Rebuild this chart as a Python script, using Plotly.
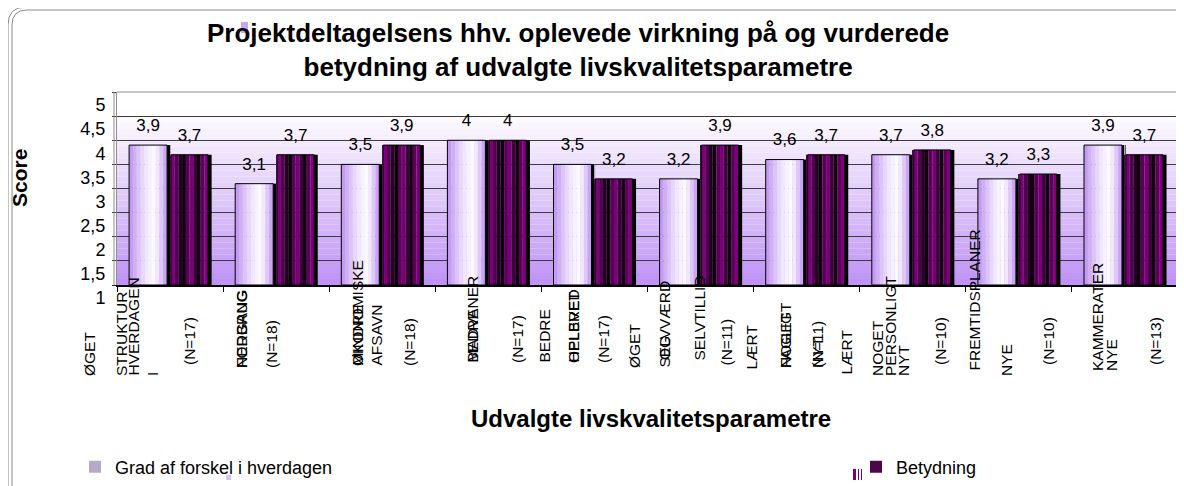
import plotly.graph_objects as go

# ---------------- data ----------------
categories = [
    "ØGET STRUKTUR I HVERDAGEN (N=17)",
    "NEDGANG FORBRUG (N=18)",
    "MINDRE ØKONOMISKE AFSAVN (N=18)",
    "BEDRE MADVANER (N=17)",
    "BEDRE OPLEVET HELBRED (N=17)",
    "ØGET SELVVÆRD OG SELVTILLID (N=11)",
    "LÆRT NOGET FAGLIGT NYT (N=11)",
    "LÆRT NOGET PERSONLIGT NYT (N=10)",
    "NYE FREMTIDSPLANER (N=10)",
    "NYE KAMMERATER (N=13)",
]
grad_values = [3.9, 3.1, 3.5, 4.0, 3.5, 3.2, 3.6, 3.7, 3.2, 3.9]
betydning_values = [3.7, 3.7, 3.9, 4.0, 3.2, 3.9, 3.7, 3.8, 3.3, 3.7]
series_names = ["Grad af forskel i hverdagen", "Betydning"]

y_ticks = [1, 1.5, 2, 2.5, 3, 3.5, 4, 4.5, 5]

# category label fragments as they appear (rotated) under the axis
label_texts = [
    "ØGET", "STRUKTUR", "HVERDAGEN", "I", "(N=17)",
    "FORBRUG", "NEDGANG", "(N=18)",
    "MINDRE", "ØKONOMISKE", "AFSAVN", "(N=18)",
    "BEDRE", "MADVANER", "(N=17)",
    "BEDRE", "OPLEVET", "HELBRED", "(N=17)",
    "ØGET", "SELVVÆRD", "OG", "SELVTILLID", "(N=11)",
    "LÆRT", "NOGET", "FAGLIGT", "NYT", "(N=11)",
    "LÆRT", "NOGET", "PERSONLIGT", "NYT", "(N=10)",
    "FREMTIDSPLANER", "NYE", "(N=10)",
    "KAMMERATER", "NYE", "(N=13)",
]

# ---------------- layout geometry (window pixels) ----------------
WIN_W, WIN_H = 1184, 486
OX = OY = 8                                   # page body margin
W, H = WIN_W - OX, WIN_H - OY                 # figure size
PL, PR, PT, PB = 117, 1178, 92, 285           # plot area edges (window px)
PW, PH = PR - PL, PB - PT


def paper_x(px):
    return (px - PL) / PW


def paper_y(py):
    return (PB - py) / PH


def cont_x(px):
    return (px - OX) / W


def cont_y(py):
    return 1 - (py - OY) / H


# label fragment placements: (centre x px, bottom y px)
label_pos = [
    (89, 378), (121, 378), (132.5, 378), (152, 378), (189, 367),
    (241, 370), (241, 370), (271, 370),
    (357, 368), (357, 368), (376, 368), (409, 368),
    (472, 365), (472, 365), (517, 365),
    (544, 365), (573, 365), (573, 365), (603, 365),
    (634, 370), (664, 370), (664, 362), (699, 363), (726, 368),
    (751, 372), (785, 370), (785, 370), (817, 370), (817, 370),
    (846, 377), (877, 378), (890, 378), (903, 378), (940, 367),
    (974, 373), (1006, 378), (1048, 367),
    (1097, 373), (1111, 373), (1155, 367),
]

FONT = "Liberation Sans, Arial, sans-serif"

light_cols = ["#c39bf2", "#d0b0f5", "#ddc4f8", "#e8d7fb", "#f1e7fd",
              "#f7f1fe", "#fbf9ff", "#f1e8fd", "#dec8f9", "#c9a5f4"]
dark_cols = ["#7b0079", "#520050", "#240022", "#0c000b", "#5a0058",
             "#7a0078", "#3c003a", "#120011", "#5c005a", "#7e007c"]

LIGHT_OFF, LIGHT_W = -0.386, 0.358
DARK_OFF, DARK_W = 0.009, 0.349
SH_W = 0.036

xs = list(range(len(categories)))
fig = go.Figure()

# shadows (3D side faces)
for off, vals in ((LIGHT_OFF + LIGHT_W, grad_values), (DARK_OFF + DARK_W, betydning_values)):
    fig.add_trace(go.Bar(x=xs, y=[v - 1 for v in vals], base=1, offset=off - 0.002, width=SH_W,
                         marker=dict(color="#000000", line=dict(width=0)),
                         showlegend=False, hoverinfo="skip"))

# gradient strips + outlines
for cols, off, wid, vals in ((light_cols, LIGHT_OFF, LIGHT_W, grad_values),
                             (dark_cols, DARK_OFF, DARK_W, betydning_values)):
    n = len(cols)
    sw = wid / n
    for k, c in enumerate(cols):
        fig.add_trace(go.Bar(x=xs, y=[v - 1 for v in vals], base=1,
                             offset=off + k * sw, width=sw * 1.03,
                             marker=dict(color=c, line=dict(width=0)),
                             showlegend=False, hoverinfo="skip"))
    fig.add_trace(go.Bar(x=xs, y=[v - 1 for v in vals], base=1, offset=off, width=wid,
                         marker=dict(color="rgba(0,0,0,0)", line=dict(color="#000000", width=1)),
                         showlegend=False, hoverinfo="skip"))

# legend carriers (zero-width bars of each series)
for name, vals, col, leg in ((series_names[0], grad_values, "#b4aac8", "legend"),
                             (series_names[1], betydning_values, "#4c0649", "legend2")):
    fig.add_trace(go.Bar(x=xs, y=[v - 1 for v in vals], base=1, width=0,
                         marker=dict(color=col, line=dict(width=0)),
                         name=name, showlegend=True, legend=leg, hoverinfo="skip"))

# value labels
for off, wid, vals in ((LIGHT_OFF, LIGHT_W, grad_values), (DARK_OFF, DARK_W, betydning_values)):
    fig.add_trace(go.Scatter(
        x=[i + off + wid / 2 for i in xs], y=[v + 0.38 for v in vals],
        mode="text", text=[("%g" % v).replace(".", ",") for v in vals],
        textposition="middle center", textfont=dict(family=FONT, size=17, color="#000"),
        cliponaxis=False, showlegend=False, hoverinfo="skip"))

# background gradient bands
nb = 32
top_c = (255, 255, 255)
bot_c = (190, 145, 245)
for b in range(nb):
    y0 = 1 + 4.0 * b / nb
    y1 = 1 + 4.0 * (b + 1) / nb
    t = min(1.0, (b + 0.5) / (nb * 0.9))
    c = tuple(int(round(bot_c[j] + (top_c[j] - bot_c[j]) * t)) for j in range(3))
    fig.add_shape(type="rect", xref="x", yref="y", x0=-0.5, x1=9.5, y0=y0, y1=y1,
                  fillcolor="rgb(%d,%d,%d)" % c, line=dict(width=0), layer="below")

shapes = []
# plot top/right border
shapes.append(dict(type="path", xref="paper", yref="paper",
                   path="M 0,1 L 1,1 L 1,0", line=dict(color="#8c8c8c", width=1.2)))
# double left wall line
shapes.append(dict(type="line", xref="paper", yref="paper",
                   x0=paper_x(114), x1=paper_x(114), y0=paper_y(PB), y1=paper_y(PT),
                   line=dict(color="#8c8c8c", width=1)))


# outer rounded double frame
def frame(xl, yt, yb, r):
    return ("M %f,%f L %f,%f Q %f,%f %f,%f L %f,%f" % (
        paper_x(xl), paper_y(yb), paper_x(xl), paper_y(yt + r),
        paper_x(xl), paper_y(yt), paper_x(xl + r), paper_y(yt),
        paper_x(WIN_W + 10), paper_y(yt)))


for xl, yt, r in ((8, 7, 18), (12, 10, 15)):
    shapes.append(dict(type="path", xref="paper", yref="paper", path=frame(xl, yt, WIN_H + 10, r),
                       line=dict(color="#8a8a8a", width=1)))

# small stray marks of the original
shapes.append(dict(type="rect", xref="paper", yref="paper", x0=paper_x(241), x1=paper_x(248),
                   y0=paper_y(33), y1=paper_y(22), fillcolor="#c8a2f6", line=dict(width=0)))
shapes.append(dict(type="rect", xref="paper", yref="paper", x0=paper_x(226), x1=paper_x(231),
                   y0=paper_y(480), y1=paper_y(475), fillcolor="#d8c2f8", line=dict(width=0)))
shapes.append(dict(type="rect", xref="paper", yref="paper", x0=paper_x(853), x1=paper_x(856),
                   y0=paper_y(480), y1=paper_y(469), fillcolor="#7a0078", line=dict(width=0)))
for xx in (858.5, 861.5):
    shapes.append(dict(type="line", xref="paper", yref="paper", x0=paper_x(xx), x1=paper_x(xx),
                       y0=paper_y(480), y1=paper_y(469), line=dict(color="#7a0078", width=1)))
for s in shapes:
    fig.add_shape(**s)

annotations = []
for txt, (cx, by) in zip(label_texts, label_pos):
    annotations.append(dict(x=paper_x(cx), xref="paper", y=paper_y(by), yref="paper",
                            text=txt, textangle=-90, showarrow=False,
                            xanchor="center", yanchor="bottom",
                            font=dict(family=FONT, size=15.5, color="#000")))
annotations.append(dict(x=paper_x(19), y=paper_y(178), xref="paper", yref="paper",
                        text="Score", textangle=-90, showarrow=False,
                        xanchor="center", yanchor="middle",
                        font=dict(family=FONT, size=21, color="#000", weight="bold")))
annotations.append(dict(x=paper_x(651), y=paper_y(418), xref="paper", yref="paper",
                        text="Udvalgte livskvalitetsparametre", showarrow=False,
                        xanchor="center", yanchor="middle",
                        font=dict(family=FONT, size=24, color="#000", weight="bold")))
annotations.append(dict(x=paper_x(578), y=paper_y(50), xref="paper", yref="paper",
                        text="Projektdeltagelsens hhv. oplevede virkning på og vurderede<br>"
                             "betydning af udvalgte livskvalitetsparametre",
                        showarrow=False, xanchor="center", yanchor="middle", align="center",
                        font=dict(family=FONT, size=26, color="#000", weight="bold")))

legend_common = dict(orientation="h", xref="container", yref="container",
                     xanchor="left", yanchor="middle",
                     font=dict(family=FONT, size=18, color="#000"),
                     bgcolor="rgba(0,0,0,0)", borderwidth=0)

fig.update_layout(
    width=W, height=H,
    margin=dict(l=PL - OX, r=WIN_W - PR, t=PT - OY, b=WIN_H - PB, autoexpand=False),
    paper_bgcolor="#ffffff", plot_bgcolor="#ffffff",
    barmode="overlay",
    separators=",.",
    font=dict(family=FONT, color="#000"),
    xaxis=dict(range=[-0.5, 9.5], tickvals=[i - 0.5 for i in range(11)],
               showticklabels=False, ticks="outside", ticklen=5, tickcolor="#000",
               showgrid=False, zeroline=False, showline=True, linecolor="#000", linewidth=2,
               fixedrange=True),
    yaxis=dict(range=[1, 5], tickvals=y_ticks, ticks="outside", ticklen=4, tickcolor="#333",
               showgrid=True, gridcolor="#3c3c3c", gridwidth=1, zeroline=False,
               showline=True, linecolor="#8c8c8c", linewidth=1,
               tickfont=dict(family=FONT, size=18, color="#000"),
               ticklabelshift=13, ticklabelstandoff=3, fixedrange=True),
    legend=dict(x=cont_x(75), y=cont_y(467), **legend_common),
    legend2=dict(x=cont_x(856), y=cont_y(467), **legend_common),
    annotations=annotations,
    showlegend=True,
)

fig.write_html("out.html")
